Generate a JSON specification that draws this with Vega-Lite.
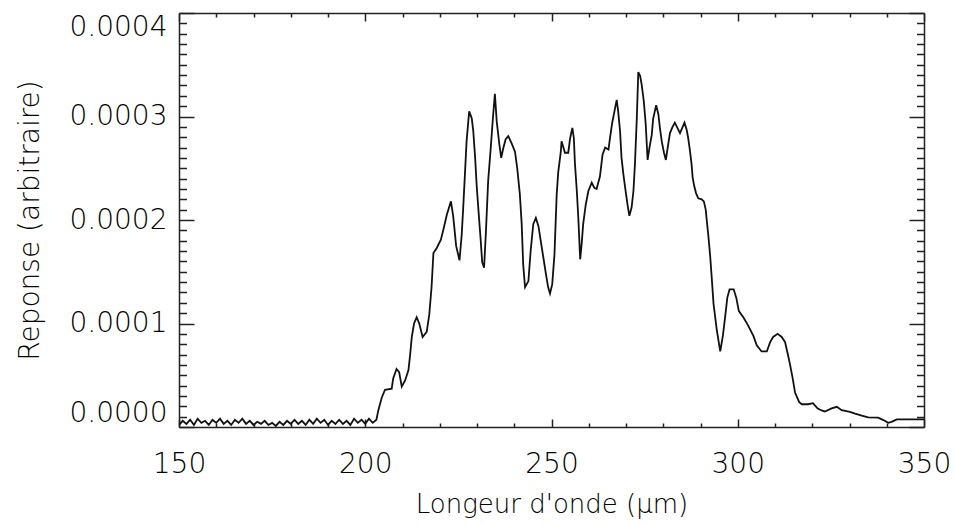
{
  "$schema": "https://vega.github.io/schema/vega-lite/v6.json",
  "width": 745,
  "height": 414,
  "autosize": {"type": "none"},
  "padding": {"left": 179, "top": 13, "right": 31, "bottom": 98},
  "background": "white",
  "config": {
    "view": {"stroke": null},
    "axis": {
      "grid": false,
      "domainColor": "#222",
      "domainWidth": 1.5,
      "tickColor": "#222",
      "tickWidth": 1.5,
      "labelFont": "DejaVu Sans",
      "labelFontSize": 28,
      "labelFontWeight": 200,
      "labelColor": "#000",
      "titleFont": "DejaVu Sans",
      "titleFontSize": 26,
      "titleFontWeight": 200,
      "titleColor": "#000",
      "labelOverlap": false
    }
  },
  "data": {"values": [
    {"w":150,"r":0.000002},{"w":151,"r":0.000006},{"w":152,"r":0.000003},{"w":153,"r":0.000007},{"w":154,"r":0.000002},
    {"w":155,"r":0.000008},{"w":156,"r":0.000004},{"w":157,"r":0.000006},{"w":158,"r":0.000002},{"w":159,"r":0.000007},
    {"w":160,"r":0.000004},{"w":161,"r":0.000008},{"w":162,"r":0.000003},{"w":163,"r":0.000006},{"w":164,"r":0.000002},
    {"w":165,"r":0.000007},{"w":166,"r":0.000004},{"w":167,"r":0.000008},{"w":168,"r":0.000003},{"w":169,"r":0.000006},
    {"w":170,"r":0.000002},{"w":171,"r":0.000005},{"w":172,"r":0.000003},{"w":173,"r":0.000006},{"w":174,"r":0.000002},
    {"w":175,"r":0.000004},{"w":176,"r":0.000001},{"w":177,"r":0.000005},{"w":178,"r":0.000002},{"w":179,"r":0.000006},
    {"w":180,"r":0.000003},{"w":181,"r":0.000007},{"w":182,"r":0.000003},{"w":183,"r":0.000006},{"w":184,"r":0.000002},
    {"w":185,"r":0.000007},{"w":186,"r":0.000003},{"w":187,"r":0.000008},{"w":188,"r":0.000004},{"w":189,"r":0.000007},
    {"w":190,"r":0.000002},{"w":191,"r":0.000006},{"w":192,"r":0.000003},{"w":193,"r":0.000007},{"w":194,"r":0.000003},
    {"w":195,"r":0.000006},{"w":196,"r":0.000002},{"w":197,"r":0.000008},{"w":198,"r":0.000004},{"w":199,"r":0.000007},
    {"w":200,"r":0.000003},{"w":201,"r":0.000008},{"w":202,"r":0.000004},{"w":203,"r":0.000007},
    {"w":203.5,"r":0.000016},{"w":204.4,"r":0.000028},{"w":205.3,"r":0.000036},{"w":207.1,"r":0.000037},{"w":207.5,"r":0.000047},
    {"w":208.4,"r":0.000056},{"w":209.1,"r":0.000053},{"w":209.8,"r":0.000039},{"w":210.7,"r":0.000045},{"w":211.6,"r":0.000055},
    {"w":212,"r":0.000068},{"w":212.5,"r":0.000087},{"w":213.1,"r":0.0001},{"w":213.8,"r":0.000106},{"w":214.5,"r":0.0001},
    {"w":215.4,"r":0.000087},{"w":216.5,"r":0.000092},{"w":217.2,"r":0.000109},{"w":217.8,"r":0.000135},{"w":218.3,"r":0.000168},
    {"w":219.2,"r":0.000173},{"w":220.3,"r":0.000181},{"w":221,"r":0.000191},{"w":221.9,"r":0.000205},{"w":223,"r":0.000218},
    {"w":223.6,"r":0.000204},{"w":224.4,"r":0.000175},{"w":225.3,"r":0.000161},{"w":225.9,"r":0.000186},{"w":226.3,"r":0.000212},
    {"w":226.8,"r":0.000247},{"w":227.2,"r":0.000276},{"w":227.9,"r":0.000305},{"w":228.6,"r":0.000298},{"w":229,"r":0.000286},
    {"w":229.5,"r":0.00026},{"w":229.9,"r":0.000234},{"w":230.4,"r":0.000209},{"w":231,"r":0.00018},{"w":231.4,"r":0.000159},
    {"w":231.9,"r":0.000154},{"w":232.4,"r":0.000189},{"w":233,"r":0.000238},{"w":233.7,"r":0.00027},{"w":234.2,"r":0.000295},
    {"w":234.8,"r":0.000322},{"w":235.3,"r":0.000295},{"w":236,"r":0.000273},{"w":236.5,"r":0.00026},{"w":237.1,"r":0.00027},
    {"w":237.7,"r":0.000278},{"w":238.4,"r":0.000281},{"w":239.3,"r":0.000274},{"w":240.2,"r":0.000266},{"w":240.8,"r":0.00025},
    {"w":241.5,"r":0.000225},{"w":242,"r":0.000196},{"w":242.4,"r":0.000157},{"w":242.9,"r":0.000135},{"w":243.8,"r":0.000141},
    {"w":244.4,"r":0.00017},{"w":245.1,"r":0.000196},{"w":245.8,"r":0.000202},{"w":246.5,"r":0.000194},{"w":247.1,"r":0.00018},
    {"w":247.8,"r":0.000164},{"w":248.5,"r":0.000148},{"w":249.1,"r":0.000135},{"w":249.6,"r":0.000129},{"w":250.2,"r":0.000138},
    {"w":250.8,"r":0.000167},{"w":251.4,"r":0.000225},{"w":251.8,"r":0.000246},{"w":252.5,"r":0.000266},{"w":252.7,"r":0.000276},
    {"w":253.2,"r":0.00027},{"w":253.6,"r":0.000265},{"w":254.5,"r":0.000265},{"w":255,"r":0.000279},{"w":255.6,"r":0.000289},
    {"w":256,"r":0.000279},{"w":256.3,"r":0.000254},{"w":256.8,"r":0.000228},{"w":257.2,"r":0.000202},{"w":257.7,"r":0.000162},
    {"w":258.1,"r":0.000177},{"w":258.5,"r":0.000196},{"w":259.2,"r":0.000215},{"w":259.9,"r":0.000228},{"w":260.8,"r":0.000236},
    {"w":261.5,"r":0.000231},{"w":262.1,"r":0.00023},{"w":263,"r":0.000242},{"w":263.7,"r":0.000263},{"w":264.4,"r":0.00027},
    {"w":265.3,"r":0.000268},{"w":265.7,"r":0.000279},{"w":266.3,"r":0.000294},{"w":266.9,"r":0.000305},{"w":267.5,"r":0.000316},
    {"w":267.9,"r":0.000305},{"w":268.4,"r":0.000286},{"w":268.8,"r":0.00026},{"w":269.3,"r":0.000244},{"w":269.9,"r":0.000228},
    {"w":270.4,"r":0.000215},{"w":270.9,"r":0.000204},{"w":271.5,"r":0.000212},{"w":272,"r":0.000228},{"w":272.4,"r":0.000254},
    {"w":272.9,"r":0.000298},{"w":273.3,"r":0.000343},{"w":273.8,"r":0.000339},{"w":274.2,"r":0.000331},{"w":274.8,"r":0.000314},
    {"w":275.3,"r":0.000292},{"w":275.8,"r":0.000258},{"w":276.3,"r":0.00027},{"w":276.9,"r":0.000282},{"w":277.3,"r":0.000298},
    {"w":278.1,"r":0.000311},{"w":278.7,"r":0.000302},{"w":279.1,"r":0.000289},{"w":279.6,"r":0.000276},{"w":280.2,"r":0.000265},
    {"w":280.7,"r":0.000258},{"w":281.2,"r":0.00027},{"w":281.8,"r":0.000284},{"w":282.5,"r":0.00029},{"w":283.1,"r":0.000294},
    {"w":283.8,"r":0.000289},{"w":284.5,"r":0.000284},{"w":285.1,"r":0.000289},{"w":285.7,"r":0.000294},{"w":286.3,"r":0.000287},
    {"w":286.7,"r":0.000279},{"w":287.2,"r":0.000266},{"w":287.6,"r":0.000254},{"w":287.9,"r":0.000241},{"w":288.3,"r":0.000233},
    {"w":288.8,"r":0.000226},{"w":289.4,"r":0.000221},{"w":290.3,"r":0.00022},{"w":290.9,"r":0.000218},{"w":291.4,"r":0.00021},
    {"w":291.7,"r":0.000199},{"w":292.1,"r":0.000185},{"w":292.6,"r":0.000165},{"w":293,"r":0.000145},{"w":293.5,"r":0.000119},
    {"w":294.4,"r":0.000093},{"w":295.3,"r":0.000073},{"w":296,"r":0.000088},{"w":296.6,"r":0.000106},{"w":297.2,"r":0.000125},
    {"w":297.8,"r":0.000133},{"w":298.9,"r":0.000133},{"w":299.6,"r":0.000125},{"w":300.3,"r":0.000112},{"w":301.5,"r":0.000106},
    {"w":302.8,"r":0.000098},{"w":304.2,"r":0.000088},{"w":305.1,"r":0.000079},{"w":306.4,"r":0.000073},{"w":307.8,"r":0.000073},
    {"w":308.7,"r":0.000082},{"w":309.5,"r":0.000087},{"w":310.7,"r":0.00009},{"w":311.8,"r":0.000087},{"w":312.7,"r":0.000082},
    {"w":313.4,"r":0.000071},{"w":314,"r":0.000061},{"w":314.7,"r":0.000048},{"w":315.4,"r":0.000033},{"w":316.5,"r":0.000024},
    {"w":317.2,"r":0.000022},{"w":318.9,"r":0.000022},{"w":320.2,"r":0.000023},{"w":321.4,"r":0.000018},{"w":322.5,"r":0.000016},
    {"w":323.4,"r":0.000015},{"w":325.2,"r":0.000018},{"w":326.6,"r":0.0000195},{"w":327.9,"r":0.0000163},{"w":330.1,"r":0.0000147},
    {"w":331.5,"r":0.000013},{"w":333.3,"r":0.000011},{"w":335,"r":0.0000093},{"w":337.7,"r":0.000009},{"w":339.1,"r":0.0000067},
    {"w":340.4,"r":0.000004},{"w":341.3,"r":0.000005},{"w":342.7,"r":0.0000074},{"w":345.3,"r":0.0000074},{"w":350,"r":0.0000074}
  ]},
  "resolve": {"axis": {"x": "independent", "y": "independent"}},
  "layer": [
    {
      "mark": {"type": "line", "color": "#111", "strokeWidth": 1.8, "clip": true},
      "encoding": {
        "x": {
          "field": "w", "type": "quantitative",
          "scale": {"domain": [150, 350], "nice": false, "zero": false},
          "axis": {
            "orient": "bottom",
            "values": [150,160,170,180,190,200,210,220,230,240,250,260,270,280,290,300,310,320,330,340,350],
            "tickSize": {"condition": {"test": "datum.value % 50 === 0", "value": -8}, "value": -4},
            "labelExpr": "datum.value % 50 === 0 ? datum.label : ''",
            "labelPadding": 31,
            "labelFlush": false,
            "title": "Longeur d'onde (μm)",
            "titlePadding": 9
          }
        },
        "y": {
          "field": "r", "type": "quantitative",
          "scale": {"domain": [0, 0.0004], "nice": false, "zero": false},
          "axis": {
            "orient": "left",
            "values": [0,0.00001,0.00002,0.00003,0.00004,0.00005,0.00006,0.00007,0.00008,0.00009,0.0001,0.00011,0.00012,0.00013,0.00014,0.00015,0.00016,0.00017,0.00018,0.00019,0.0002,0.00021,0.00022,0.00023,0.00024,0.00025,0.00026,0.00027,0.00028,0.00029,0.0003,0.00031,0.00032,0.00033,0.00034,0.00035,0.00036,0.00037,0.00038,0.00039,0.0004],
            "format": ".4f",
            "tickSize": {"condition": {"test": "round(datum.value * 100000) % 10 === 0", "value": -15}, "value": -7.5},
            "labelExpr": "round(datum.value * 100000) % 10 === 0 ? datum.label : ''",
            "labelPadding": 27,
            "labelFlush": true,
            "title": "Reponse (arbitraire)",
            "titleFontSize": 28,
            "titlePadding": 25
          }
        }
      }
    },
    {
      "mark": {"type": "line", "opacity": 0},
      "encoding": {
        "x": {
          "field": "w", "type": "quantitative",
          "scale": {"domain": [150, 350], "nice": false, "zero": false},
          "axis": {
            "orient": "top",
            "values": [150,160,170,180,190,200,210,220,230,240,250,260,270,280,290,300,310,320,330,340,350],
            "tickSize": {"condition": {"test": "datum.value % 50 === 0", "value": -8}, "value": -4},
            "labels": false,
            "title": null
          }
        },
        "y": {
          "field": "r", "type": "quantitative",
          "scale": {"domain": [0, 0.0004], "nice": false, "zero": false},
          "axis": {
            "orient": "right",
            "values": [0,0.00001,0.00002,0.00003,0.00004,0.00005,0.00006,0.00007,0.00008,0.00009,0.0001,0.00011,0.00012,0.00013,0.00014,0.00015,0.00016,0.00017,0.00018,0.00019,0.0002,0.00021,0.00022,0.00023,0.00024,0.00025,0.00026,0.00027,0.00028,0.00029,0.0003,0.00031,0.00032,0.00033,0.00034,0.00035,0.00036,0.00037,0.00038,0.00039,0.0004],
            "tickSize": {"condition": {"test": "round(datum.value * 100000) % 10 === 0", "value": -15}, "value": -7.5},
            "labels": false,
            "title": null
          }
        }
      }
    }
  ]
}
